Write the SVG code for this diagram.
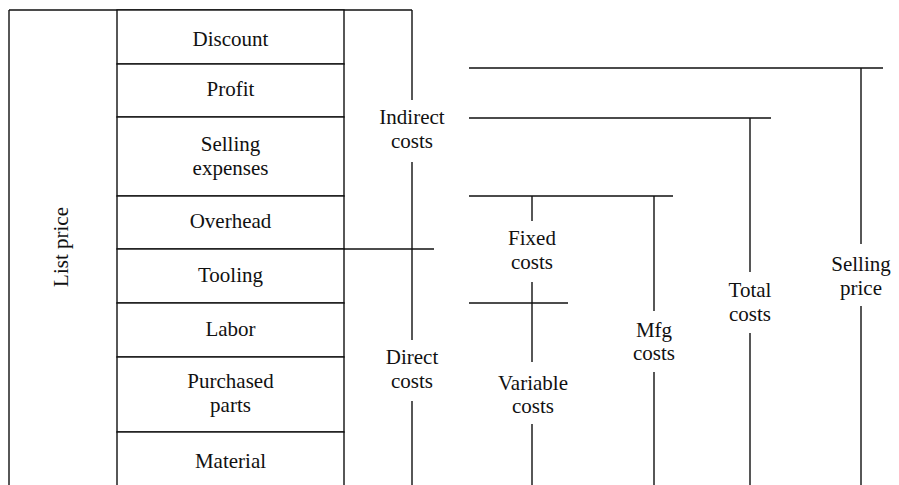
<svg xmlns="http://www.w3.org/2000/svg" width="899" height="485" viewBox="0 0 899 485">
<style>
.ln{stroke:#111;stroke-width:1.4;fill:none}
.row{stroke:#111;stroke-width:1.4;fill:#fff}
text{font-family:"Liberation Serif","Times New Roman",serif;font-size:21px;fill:#111;text-anchor:middle}
</style>
<rect width="899" height="485" fill="#fff"/>
<g id="frame">
<path class="ln" d="M9,10H412M9,10V490"/>
<g id="list-price"><text transform="translate(68,247) rotate(-90)">List price</text></g>
</g>
<g id="discount"><rect class="row" x="117" y="10" width="227" height="54"/><text x="230.5" y="46">Discount</text></g>
<g id="profit"><rect class="row" x="117" y="64" width="227" height="53"/><text x="230.5" y="96">Profit</text></g>
<g id="selling-expenses"><rect class="row" x="117" y="117" width="227" height="79"/><text x="230.5" y="151">Selling</text><text x="230.5" y="175">expenses</text></g>
<g id="overhead"><rect class="row" x="117" y="196" width="227" height="53"/><text x="230.5" y="228">Overhead</text></g>
<g id="tooling"><rect class="row" x="117" y="249" width="227" height="54"/><text x="230.5" y="282">Tooling</text></g>
<g id="labor"><rect class="row" x="117" y="303" width="227" height="54"/><text x="230.5" y="336">Labor</text></g>
<g id="purchased-parts"><rect class="row" x="117" y="357" width="227" height="75"/><text x="230.5" y="388">Purchased</text><text x="230.5" y="412">parts</text></g>
<g id="material"><rect class="row" x="117" y="432" width="227" height="70"/><text x="230.5" y="468">Material</text></g>
<g id="connectors">
<path class="ln" d="M344,249H434"/>
<path class="ln" d="M412,10V100M412,162V340M412,401V490"/>
<path class="ln" d="M469,68H883M861,68V244M861,306V490"/>
<path class="ln" d="M469,118H771M750,118V272M750,333V490"/>
<path class="ln" d="M469,196H673M532,196V221M532,282V362M532,424V490M654,196V311M654,372V490"/>
<path class="ln" d="M469,303H568"/>
</g>
<g id="indirect-costs"><text x="412" y="124">Indirect</text><text x="412" y="148">costs</text></g>
<g id="direct-costs"><text x="412" y="364">Direct</text><text x="412" y="388">costs</text></g>
<g id="fixed-costs"><text x="532" y="245">Fixed</text><text x="532" y="269">costs</text></g>
<g id="variable-costs"><text x="533" y="390">Variable</text><text x="533" y="413">costs</text></g>
<g id="mfg-costs"><text x="654" y="337">Mfg</text><text x="654" y="360">costs</text></g>
<g id="total-costs"><text x="750" y="297">Total</text><text x="750" y="321">costs</text></g>
<g id="selling-price"><text x="861" y="271">Selling</text><text x="861" y="295">price</text></g>
</svg>
